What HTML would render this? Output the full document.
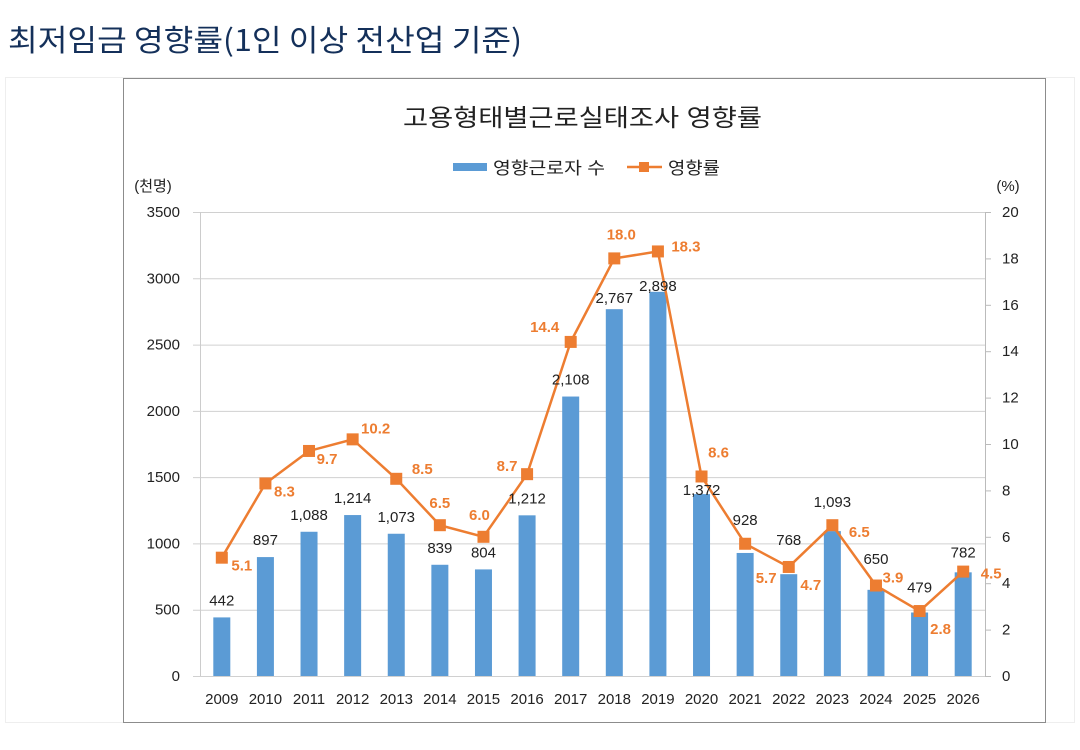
<!DOCTYPE html>
<html><head><meta charset="utf-8"><style>
body{margin:0;width:1080px;height:750px;background:#fff;font-family:"Liberation Sans","Noto Sans CJK KR",sans-serif;overflow:hidden}
#outer{position:absolute;left:5px;top:77px;width:1070px;height:646px;border:1px solid #eee;box-sizing:border-box}
svg{position:absolute;left:0;top:0}
</style></head><body>
<div id="outer"></div>
<svg id="c" width="1080" height="750" font-family="Liberation Sans, Noto Sans CJK KR, sans-serif"></svg>
<script>
const years=['2009','2010','2011','2012','2013','2014','2015','2016','2017','2018','2019','2020','2021','2022','2023','2024','2025','2026'];
const workers=[442,897,1088,1214,1073,839,804,1212,2108,2767,2898,1372,928,768,1093,650,479,782];
const workerLabels=['442','897','1,088','1,214','1,073','839','804','1,212','2,108','2,767','2,898','1,372','928','768','1,093','650','479','782'];
const rate=[5.1,8.3,9.7,10.2,8.5,6.5,6.0,8.7,14.4,18.0,18.3,8.6,5.7,4.7,6.5,3.9,2.8,4.5];
const leftTicks=[0,500,1000,1500,2000,2500,3000,3500];
const rightTicks=[0,2,4,6,8,10,12,14,16,18,20];
// label offsets (style only)
const rdx=[20,19,18,23,26,0,-4,-20,-26,7,28,17,21,22,27,17,21,28];
const rdy=[8,8,8,-11,-10,-22,-22,-8,-15,-24,-5,-24,34,18,7,-8,18,2];
const bdx=[0,0,0,0,0,0,0,0,0,0,0,0,0,0,0,0,0,0];
const bdy=[0,0,0,0,0,0,0,0,0,6,11,13,-16,-17,-12,-14,-8,-3];

const S=document.getElementById('c'),NS='http://www.w3.org/2000/svg';
const X0=200,X1=985,Y0=676,Y1=212,bw=(X1-X0)/years.length;
const x=i=>X0+bw*(i+0.5), yl=v=>Y0-(v/3500)*(Y0-Y1), yr=v=>Y0-(v/20)*(Y0-Y1);
function mk(tag,a,txt){const e=document.createElementNS(NS,tag);for(const k in a)e.setAttribute(k,a[k]);if(txt!==undefined)e.textContent=txt;S.appendChild(e);return e;}
let e;
e=mk('text',{x:8,y:51,'font-size':30,fill:'#14305a',textLength:514,lengthAdjust:'spacingAndGlyphs','font-family':'Noto Sans CJK KR, sans-serif'},'최저임금 영향률(1인 이상 전산업 기준)');

e=mk('rect',{x:123.5,y:78.5,width:922,height:644,fill:'#fff',stroke:'#8c8c8c'});

e=mk('text',{x:403,y:126,'font-size':24,fill:'#222',textLength:359,lengthAdjust:'spacingAndGlyphs'},'고용형태별근로실태조사 영향률');

e=mk('rect',{x:453,y:163,width:34,height:8,fill:'#5b9bd5'});

e=mk('text',{x:493,y:174,'font-size':17,fill:'#222',textLength:112,lengthAdjust:'spacingAndGlyphs'},'영향근로자 수');

e=mk('line',{x1:627,y1:167,x2:662,y2:167,stroke:'#ed7d31','stroke-width':2.5});

e=mk('rect',{x:639,y:162,width:10,height:10,fill:'#ed7d31'});

e=mk('text',{x:668,y:174,'font-size':17,fill:'#222',textLength:52,lengthAdjust:'spacingAndGlyphs'},'영향률');

e=mk('text',{x:153,y:191,'font-size':15,'text-anchor':'middle',fill:'#222'},'(천명)');

e=mk('text',{x:1008,y:191,'font-size':15,'text-anchor':'middle',fill:'#222'},'(%)');

leftTicks.forEach(v=>{
 e=mk('line',{x1:193,x2:X1,y1:yl(v)+.5,y2:yl(v)+.5,stroke:'#d0d0d0'});
 
 e=mk('text',{x:180,y:yl(v)+5,'font-size':15,'text-anchor':'end',fill:'#222'},v);
 
});
rightTicks.forEach(v=>{
 e=mk('line',{x1:X1,x2:X1+6,y1:yr(v)+.5,y2:yr(v)+.5,stroke:'#bbb'});
 
 e=mk('text',{x:1002,y:yr(v)+5,'font-size':15,fill:'#222'},v);
 
});
e=mk('line',{x1:X0+.5,x2:X0+.5,y1:Y1,y2:Y0,stroke:'#ccc'});

e=mk('line',{x1:X1+.5,x2:X1+.5,y1:Y1,y2:Y0,stroke:'#bbb'});

years.forEach((yv,i)=>{
 e=mk('rect',{x:x(i)-8.5,y:yl(workers[i]),width:17,height:Y0-yl(workers[i]),fill:'#5b9bd5'});
 
 e=mk('text',{x:x(i),y:Y0+28,'font-size':15,'text-anchor':'middle',fill:'#222'},yv);
 
});
e=mk('polyline',{points:rate.map((v,i)=>x(i)+','+yr(v)).join(' '),fill:'none',stroke:'#ed7d31','stroke-width':2.5});

rate.forEach((v,i)=>{
 e=mk('rect',{x:x(i)-6,y:yr(v)-6,width:12,height:12,fill:'#ed7d31'});
 
 e=mk('text',{x:x(i)+rdx[i],y:yr(v)+rdy[i]+5,'font-size':15,'font-weight':'bold','text-anchor':'middle',fill:'#ed7d31'},v.toFixed(1));
 
});
years.forEach((yv,i)=>{
 e=mk('text',{x:x(i)+bdx[i],y:yl(workers[i])-12+bdy[i],'font-size':15,'text-anchor':'middle',fill:'#222'},workerLabels[i]);
 
});
</script>
</body></html>
